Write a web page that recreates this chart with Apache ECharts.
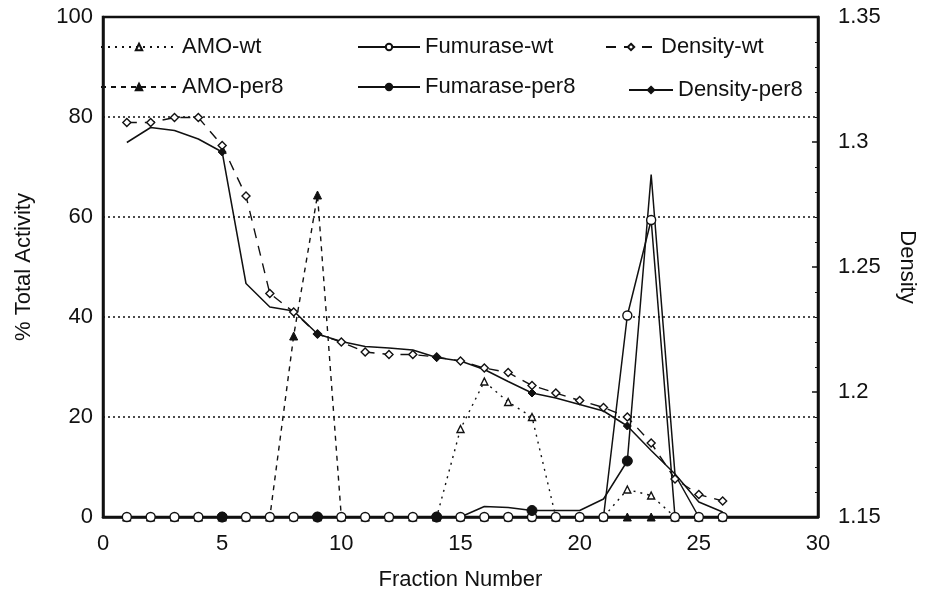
<!DOCTYPE html>
<html>
<head>
<meta charset="utf-8">
<title>Fraction activity and density</title>
<script src="https://cdn.jsdelivr.net/npm/echarts@6/dist/echarts.min.js"></script>
<style>
  html, body { margin: 0; padding: 0; background: #fff; }
  #chart { width: 926px; height: 596px; }
</style>
</head>
<body>
<div id="chart"></div>
<script>
// fraction numbers (x)
const fractions = [1, 2, 3, 4, 5, 6, 7, 8, 9, 10, 11, 12, 13, 14, 15, 16, 17, 18, 19, 20, 21, 22, 23, 24, 25, 26]

// % total activity (left axis)
const amoWt = [0, 0, 0, 0, 0, 0, 0, 0, 0, 0, 0, 0, 0, 0, 17.6, 27.1, 23.0, 20.0, 0, 0, 0, 5.5, 4.3, 0, 0, 0]
const amoPer8 = [0, 0, 0, 0, 0, 0, 0, 36.2, 64.4, 0, 0, 0, 0, 0, 0, 0, 0, 0, 0, 0, 0, 0, 0, 0, 0, 0]
const fumWt = [0, 0, 0, 0, 0, 0, 0, 0, 0, 0, 0, 0, 0, 0, 0, 0, 0, 0, 0, 0, 0, 40.3, 59.4, 0, 0, 0]
const fumPer8 = [0, 0, 0, 0, 0, 0, 0, 0, 0, 0, 0, 0, 0, 0, 0, 2.1, 1.9, 1.3, 1.3, 1.3, 3.6, 11.2, 68.5, 8.5, 0, 0]

// density (right axis)
const densWt = [1.3078, 1.3078, 1.3098, 1.3098, 1.2986, 1.2784, 1.2394, 1.2320, 1.2232, 1.2200, 1.2160, 1.2150, 1.2150,
  1.2140, 1.2124, 1.2096, 1.2078, 1.2026, 1.1996, 1.1966, 1.1938, 1.1900, 1.1796, 1.1652, 1.1590, 1.1564]
const densPer8 = [1.2998, 1.3058, 1.3046, 1.3012, 1.2960, 1.2434, 1.2340, 1.2324, 1.2232, 1.2202, 1.2182, 1.2176, 1.2168,
  1.2138, 1.2124, 1.2090, 1.2042, 1.1996, 1.1976, 1.1950, 1.1924, 1.1864, 1.1766, 1.1672, 1.1560, 1.1520]

// per8 curves only carry a marker on these fractions
const per8Marked = [5, 9, 14, 18, 22]

const leftTicks = { min: 0, max: 100, interval: 20 }
const rightTicks = { min: 1.15, max: 1.35, interval: 0.05 }
const xTicks = { min: 0, max: 30, interval: 5 }

const ink = '#111'
const font = 'Liberation Sans, Arial, Helvetica, sans-serif'
const fs = 22

function pairs(vals) {
  return fractions.map((f, i) => [f, vals[i]])
}

function pairsMarked(vals) {
  return fractions.map((f, i) => (per8Marked.includes(f) ? [f, vals[i]] : { value: [f, vals[i]], symbol: 'none' }))
}

const openStyle = { color: '#fff', borderColor: ink, borderWidth: 1.4 }
const filledStyle = { color: ink, borderColor: ink, borderWidth: 1 }

function legendAt(name, left, top, width) {
  return {
    data: [name],
    left, top,
    padding: 0,
    itemWidth: width,
    itemHeight: 8,
    textStyle: { color: ink, fontSize: fs, fontFamily: font },
    selectedMode: false,
  }
}

const chart = echarts.init(document.getElementById('chart'), null, { renderer: 'canvas' })

chart.setOption({
  animation: false,
  backgroundColor: '#fff',
  textStyle: { fontFamily: font },
  grid: { left: 103, right: 108, top: 17, bottom: 77, show: true, borderColor: ink, borderWidth: 2.5 },
  legend: [
    legendAt('AMO-wt', 100, 36, 76),
    legendAt('Fumurase-wt', 357, 36, 62),
    legendAt('Density-wt', 605, 36, 50),
    legendAt('AMO-per8', 100, 76, 76),
    legendAt('Fumarase-per8', 357, 76, 62),
    legendAt('Density-per8', 628, 79, 44),
  ],
  xAxis: {
    type: 'value',
    ...xTicks,
    name: 'Fraction Number',
    nameLocation: 'middle',
    nameGap: 52,
    nameTextStyle: { color: ink, fontSize: fs },
    axisLine: { lineStyle: { color: ink, width: 2.5 } },
    axisTick: { show: false },
    splitLine: { show: false },
    axisLabel: { color: ink, fontSize: fs, margin: 16 },
  },
  yAxis: [
    {
      type: 'value',
      ...leftTicks,
      name: '% Total Activity',
      nameLocation: 'middle',
      nameGap: 68,
      nameTextStyle: { color: ink, fontSize: fs },
      axisLine: { show: true, lineStyle: { color: ink, width: 2.5 } },
      axisTick: { show: false },
      axisLabel: { color: ink, fontSize: fs, margin: 10 },
      splitLine: { show: true, lineStyle: { color: ink, width: 1.5, type: [2, 3] } },
    },
    {
      type: 'value',
      ...rightTicks,
      position: 'right',
      name: 'Density',
      nameLocation: 'middle',
      nameRotate: -90,
      nameGap: 78,
      nameTextStyle: { color: ink, fontSize: fs },
      axisLine: { show: true, lineStyle: { color: ink, width: 2.5 } },
      axisTick: { show: true, inside: true, length: 6, lineStyle: { color: ink, width: 1.5 } },
      minorTick: { show: true, splitNumber: 5, length: 3, lineStyle: { color: ink } },
      axisLabel: { color: ink, fontSize: fs, margin: 20 },
      splitLine: { show: false },
    },
  ],
  series: [
    {
      name: 'AMO-wt', type: 'line', data: pairs(amoWt),
      symbol: 'triangle', symbolSize: 7,
      lineStyle: { color: ink, width: 1.4, type: [2, 5] },
      itemStyle: openStyle,
    },
    {
      name: 'AMO-per8', type: 'line', data: pairs(amoPer8),
      symbol: 'triangle', symbolSize: 8,
      lineStyle: { color: ink, width: 1.4, type: [5, 5] },
      itemStyle: filledStyle,
    },
    {
      name: 'Density-wt', type: 'line', yAxisIndex: 1, data: pairs(densWt),
      symbol: 'diamond', symbolSize: 8,
      lineStyle: { color: ink, width: 1.4, type: [10, 8] },
      itemStyle: openStyle,
    },
    {
      name: 'Density-per8', type: 'line', yAxisIndex: 1, data: pairsMarked(densPer8),
      symbol: 'diamond', symbolSize: 8,
      lineStyle: { color: ink, width: 1.5 },
      itemStyle: filledStyle,
    },
    {
      name: 'Fumurase-wt', type: 'line', data: pairs(fumWt),
      symbol: 'circle', symbolSize: 9,
      lineStyle: { color: ink, width: 1.5 },
      itemStyle: openStyle,
    },
    {
      name: 'Fumarase-per8', type: 'line', data: pairsMarked(fumPer8),
      symbol: 'circle', symbolSize: 10,
      lineStyle: { color: ink, width: 1.5 },
      itemStyle: filledStyle,
    },
  ],
})
</script>
</body>
</html>
